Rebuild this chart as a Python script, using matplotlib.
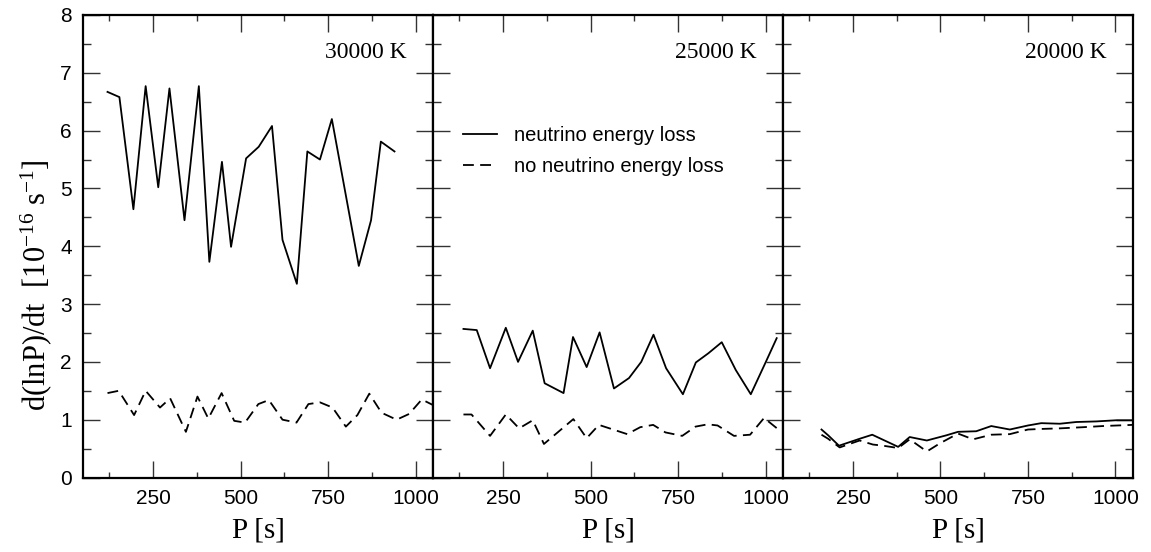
import matplotlib
matplotlib.use("Agg")
import matplotlib.pyplot as plt
from matplotlib.ticker import MultipleLocator

# --- data ---
p30_nu = [120, 154, 194, 229, 265, 297, 340, 381, 411, 447, 473, 516, 552, 590, 620,
          661, 691, 727, 761, 838, 873, 901, 940]
d30_nu = [6.67, 6.58, 4.64, 6.77, 5.02, 6.73, 4.45, 6.77, 3.73, 5.46, 3.99, 5.52, 5.72, 6.08, 4.11,
          3.35, 5.64, 5.50, 6.20, 3.66, 4.45, 5.81, 5.64]
p30_no = [120, 152, 196, 229, 270, 299, 344, 377, 408, 446, 482, 513, 551, 581, 620,
          660, 694, 727, 763, 801, 834, 868, 903, 946, 982, 1018, 1051]
d30_no = [1.46, 1.50, 1.08, 1.50, 1.21, 1.37, 0.79, 1.40, 1.02, 1.46, 0.98, 0.95, 1.27, 1.34, 1.00,
          0.95, 1.27, 1.30, 1.21, 0.88, 1.08, 1.45, 1.12, 1.00, 1.10, 1.35, 1.25]

p25_nu = [137, 175, 213, 258, 293, 335, 369, 423, 450, 489, 526, 567, 610, 645, 680,
          716, 764, 801, 837, 875, 915, 958, 1001, 1032]
d25_nu = [2.57, 2.55, 1.89, 2.59, 2.00, 2.54, 1.63, 1.46, 2.43, 1.91, 2.51, 1.54, 1.72, 2.00, 2.47,
          1.89, 1.44, 1.99, 2.15, 2.34, 1.86, 1.44, 2.00, 2.41]
p25_no = [137, 160, 213, 258, 296, 335, 367, 451, 489, 524, 605, 642, 679, 714, 762,
          800, 835, 863, 910, 956, 996, 1039]
d25_no = [1.09, 1.09, 0.72, 1.09, 0.85, 0.99, 0.58, 1.01, 0.68, 0.91, 0.75, 0.87, 0.91, 0.78, 0.72,
          0.88, 0.92, 0.90, 0.72, 0.74, 1.03, 0.82]

p20_nu = [160, 179, 210, 269, 305, 379, 412, 461, 517, 550, 602, 645, 698, 750, 788,
          841, 888, 945, 1002, 1048]
d20_nu = [0.83, 0.73, 0.55, 0.67, 0.74, 0.53, 0.70, 0.64, 0.73, 0.79, 0.80, 0.89, 0.83, 0.90, 0.94,
          0.93, 0.96, 0.97, 0.99, 0.99]
p20_no = [160, 179, 212, 245, 269, 307, 336, 379, 412, 461, 498, 550, 593, 645, 698,
          750, 788, 841, 907, 964, 1048]
d20_no = [0.74, 0.67, 0.52, 0.59, 0.64, 0.57, 0.55, 0.51, 0.66, 0.45, 0.59, 0.76, 0.66, 0.74, 0.75,
          0.83, 0.84, 0.85, 0.87, 0.89, 0.91]

temps = ["30000 K", "25000 K", "20000 K"]
panels = [(p30_nu, d30_nu, p30_no, d30_no),
          (p25_nu, d25_nu, p25_no, d25_no),
          (p20_nu, d20_nu, p20_no, d20_no)]
xticks = [250, 500, 750, 1000]

sans = "Liberation Sans"
serif = "Liberation Serif"
plt.rcParams["mathtext.fontset"] = "custom"
plt.rcParams["mathtext.rm"] = serif
plt.rcParams["mathtext.it"] = serif + ":italic"
plt.rcParams["mathtext.default"] = "regular"

fig = plt.figure(figsize=(11.51, 5.52), dpi=100)
left0 = 83 / 1151
w = 350 / 1151
bot = 1 - 477.5 / 552
h = 462.5 / 552

axes = []
for i, (pn, dn, po, do) in enumerate(panels):
    ax = fig.add_axes([left0 + i * w, bot, w, h])
    axes.append(ax)
    ax.plot(pn, dn, color="black", lw=1.3, ls="-", label="neutrino energy loss")
    ax.plot(po, do, color="black", lw=1.3, ls=(0, (6, 3.5)), label="no neutrino energy loss")
    ax.set_xlim(50, 1050)
    ax.set_ylim(0, 8)
    ax.xaxis.set_minor_locator(MultipleLocator(125))
    ax.yaxis.set_major_locator(MultipleLocator(1))
    ax.yaxis.set_minor_locator(MultipleLocator(0.5))
    ax.set_xticks(xticks)
    ax.set_xticklabels([str(t) for t in xticks], fontfamily=sans, fontsize=15)
    ax.tick_params(which="both", direction="in", top=True, right=True, width=1, color="#333333")
    ax.tick_params(which="major", length=12, pad=8)
    ax.tick_params(axis="x", which="minor", length=4.5)
    ax.tick_params(axis="y", which="minor", length=6)
    for sp in ax.spines.values():
        sp.set_linewidth(1.6)
    if i == 0:
        ax.set_yticks(range(0, 9))
        ax.set_yticklabels([str(t) for t in range(0, 9)], fontfamily=sans, fontsize=15)
    else:
        ax.set_yticklabels([])
    ax.set_xlabel("P [s]", fontfamily=serif, fontsize=21, labelpad=7)
    ax.text(0.925, 0.918, temps[i], transform=ax.transAxes, ha="right", va="center",
            fontfamily=serif, fontsize=17)
    if i == 1:
        ax.legend(loc="upper left", bbox_to_anchor=(0.085, 0.76), frameon=False,
                  prop={"family": sans, "size": 14.5}, handlelength=1.7, handletextpad=0.85,
                  labelspacing=0.6, borderpad=0, borderaxespad=0)

fig.text(36 / 1151, 1 - 285 / 552, r"d(lnP)/dt  [10$^{-16}$ s$^{-1}$]", rotation=90,
         ha="center", va="center", fontfamily=serif, fontsize=22)

fig.savefig("out.png", dpi=100)
